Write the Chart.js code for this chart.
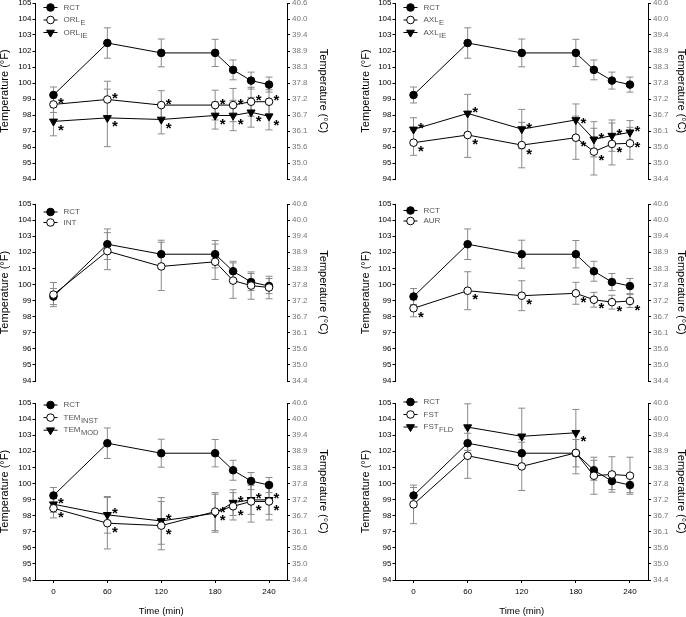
<!DOCTYPE html>
<html>
<head>
<meta charset="utf-8">
<script src="https://cdn.jsdelivr.net/npm/chart.js@4.4.0/dist/chart.umd.min.js"></script>
<style>
  html, body { margin: 0; padding: 0; background: #fff; }
  #wrap { position: relative; width: 686px; height: 617px; overflow: hidden; }
  #wrap canvas { position: absolute; }
</style>
</head>
<body>
<div id="wrap"></div>
<script>
// sampling times (min) and axis ticks
const times = [0, 60, 120, 180, 200, 220, 240];
const timeTicks = [0, 60, 120, 180, 240];
const fTicks = [94, 95, 96, 97, 98, 99, 100, 101, 102, 103, 104, 105];
const cTicks = ['34.4', '35.0', '35.6', '36.1', '36.7', '37.2', '37.8', '38.3', '38.9', '39.4', '40.0', '40.6'];

// rectal (reference) temperature, °F
const rct = [99.25, 102.5, 101.88, 101.88, 100.82, 100.15, 99.9];
const rctErr = [0.5, 0.95, 0.87, 0.85, 0.62, 0.53, 0.47];

// oral
const orlE = [98.66, 98.97, 98.62, 98.62, 98.62, 98.83, 98.83];
const orlEErr = [0.5, 1.14, 0.9, 0.93, 1.04, 0.9, 0.75];
const orlEStars = ['u', 'u', 'u', 'u', 'u', 'u', 'u'];
const orlIE = [97.6, 97.82, 97.72, 97.97, 97.97, 98.17, 97.92];
const orlIEErr = [0.9, 1.8, 0.9, 0.85, 0.95, 0.93, 0.85];
const orlIEStars = ['d', 'd', 'd', 'd', 'd', 'd', 'd'];

// axillary
const axlE = [96.27, 96.75, 96.12, 96.58, 95.71, 96.19, 96.23];
const axlEErr = [0.79, 1.4, 1.42, 1.35, 1.46, 1.31, 1.0];
const axlEStars = ['d', 'd', 'd', 'd', 'd', 'd', 'r'];
const axlIE = [97.1, 98.1, 97.12, 97.69, 96.48, 96.71, 96.92];
const axlIEErr = [0.73, 1.19, 1.23, 1.0, 1.1, 0.98, 0.73];
const axlIEStars = ['u', 'u', 'u', 'r', 'u', 'u', 'u'];

// intestinal
const intT = [99.37, 102.07, 101.12, 101.41, 100.24, 99.93, 99.81];
const intErr = [0.75, 1.15, 1.5, 1.1, 1.1, 0.85, 0.7];

// aural
const aur = [98.52, 99.61, 99.3, 99.45, 99.05, 98.9, 98.97];
const aurErr = [0.53, 1.18, 0.93, 0.68, 0.46, 0.43, 0.4];
const aurStars = ['d', 'd', 'd', 'd', 'd', 'd', 'd'];

// temporal
const temInst = [98.46, 97.53, 97.38, 98.25, 98.58, 98.88, 98.88];
const temInstErr = [0.6, 1.6, 1.5, 1.18, 0.85, 1.28, 1.15];
const temInstStars = ['d', 'd', 'd', 'd', 'd', 'd', 'd'];
const temMod = [98.71, 98.05, 97.67, 98.15, 98.81, 98.98, 98.98];
const temModErr = [0.5, 1.14, 1.45, 1.18, 0.8, 0.9, 0.9];
const temModStars = ['u', 'u', 'u', 'u', 'u', 'u', 'u'];

// forehead strip
const fst = [98.7, 101.72, 101.06, 101.9, 100.48, 100.56, 100.48];
const fstErr = [1.2, 1.4, 1.5, 1.3, 1.15, 1.1, 1.15];
const fstFld = [null, 103.5, 102.93, 103.15, null, null, null];
const fstFldErr = [0, 1.45, 1.75, 1.45, 0, 0, 0];
const fstFldStars = [null, null, null, 'd', null, null, null];

const rctSeries = { name: 'RCT', sub: '', style: 'filled', values: rct, errors: rctErr };

const panels = [
  { col: 0, row: 0, legendTop: 4.5, legendGap: 12.5, series: [rctSeries,
    { name: 'ORL', sub: 'E', style: 'open', values: orlE, errors: orlEErr, stars: orlEStars },
    { name: 'ORL', sub: 'IE', style: 'triangle', values: orlIE, errors: orlIEErr, stars: orlIEStars }] },
  { col: 1, row: 0, legendTop: 4.5, legendGap: 12.5, series: [rctSeries,
    { name: 'AXL', sub: 'E', style: 'open', values: axlE, errors: axlEErr, stars: axlEStars },
    { name: 'AXL', sub: 'IE', style: 'triangle', values: axlIE, errors: axlIEErr, stars: axlIEStars }] },
  { col: 0, row: 1, legendTop: 8, legendGap: 10.5, series: [rctSeries,
    { name: 'INT', sub: '', style: 'open', values: intT, errors: intErr }] },
  { col: 1, row: 1, legendTop: 6.5, legendGap: 10.5, series: [rctSeries,
    { name: 'AUR', sub: '', style: 'open', values: aur, errors: aurErr, stars: aurStars }] },
  { col: 0, row: 2, legendTop: 2, legendGap: 12.6, series: [rctSeries,
    { name: 'TEM', sub: 'INST', style: 'open', values: temInst, errors: temInstErr, stars: temInstStars },
    { name: 'TEM', sub: 'MOD', style: 'triangle', values: temMod, errors: temModErr, stars: temModStars }] },
  { col: 1, row: 2, legendTop: -1, legendGap: 12.5, series: [rctSeries,
    { name: 'FST', sub: '', style: 'open', values: fst, errors: fstErr },
    { name: 'FST', sub: 'FLD', style: 'triangle', values: fstFld, errors: fstFldErr, stars: fstFldStars }] }
];

// page geometry
const cols = [
  { left: 0, plotLeft: 35.5, plotRight: 287, leftTitlePad: -1.5, rightTitlePad: 13.5 },
  { left: 343, plotLeft: 395.5, plotRight: 648, leftTitlePad: 16.5, rightTitlePad: -1.5 }
];
const rows = [{ top: 3, bottom: 179 }, { top: 204, bottom: 381 }, { top: 403, bottom: 580 }];
const FONT = '"Liberation Sans", Arial, sans-serif';
Chart.defaults.font.family = FONT;

const errorBars = {
  id: 'errorBars',
  beforeDatasetsDraw(chart) {
    const ctx = chart.ctx, ys = chart.scales.y;
    ctx.save();
    ctx.strokeStyle = '#8a8a8a';
    ctx.lineWidth = 1;
    chart.data.datasets.forEach((ds, i) => {
      const meta = chart.getDatasetMeta(i);
      ds.data.forEach((d, j) => {
        if (d.y == null || !ds.errors[j]) return;
        const x = meta.data[j].x;
        const t = ys.getPixelForValue(d.y + ds.errors[j]);
        const b = ys.getPixelForValue(d.y - ds.errors[j]);
        ctx.beginPath();
        ctx.moveTo(x, t); ctx.lineTo(x, b);
        ctx.moveTo(x - 3.5, t); ctx.lineTo(x + 3.5, t);
        ctx.moveTo(x - 3.5, b); ctx.lineTo(x + 3.5, b);
        ctx.stroke();
      });
    });
    ctx.restore();
  }
};

const starMarks = {
  id: 'starMarks',
  afterDatasetsDraw(chart) {
    const ctx = chart.ctx;
    const dy = { u: -5, d: 5, r: 0 };
    ctx.save();
    ctx.fillStyle = '#000';
    ctx.font = 'bold 15px ' + FONT;
    ctx.textAlign = 'center';
    ctx.textBaseline = 'alphabetic';
    chart.data.datasets.forEach((ds, i) => {
      if (!ds.stars) return;
      const meta = chart.getDatasetMeta(i);
      ds.stars.forEach((s, j) => {
        if (!s) return;
        const p = meta.data[j];
        ctx.fillText('*', p.x + 7.5, p.y + dy[s] + 8.5);
      });
    });
    ctx.restore();
  }
};

const panelLegend = {
  id: 'panelLegend',
  afterDraw(chart, args, opts) {
    const ctx = chart.ctx, area = chart.chartArea;
    ctx.save();
    chart.data.datasets.forEach((ds, k) => {
      const y = area.top + opts.top + k * opts.gap;
      const x0 = area.left + 8;
      ctx.strokeStyle = '#000';
      ctx.lineWidth = 1;
      ctx.beginPath();
      ctx.moveTo(x0, y); ctx.lineTo(x0 + 14, y);
      ctx.stroke();
      ctx.fillStyle = ds.pointBackgroundColor;
      ctx.strokeStyle = '#000';
      Chart.helpers.drawPoint(ctx, {
        pointStyle: ds.pointStyle, rotation: ds.pointRotation,
        radius: ds.pointRadius, borderWidth: 1
      }, x0 + 7, y);
      ctx.fillStyle = '#555';
      ctx.textAlign = 'left';
      ctx.textBaseline = 'middle';
      ctx.font = '8px ' + FONT;
      const tx = x0 + 20;
      ctx.fillText(ds.label, tx, y);
      if (ds.sub) {
        const w = ctx.measureText(ds.label).width;
        ctx.font = '7.5px ' + FONT;
        ctx.fillText(ds.sub, tx + w + 0.5, y + 3);
      }
    });
    ctx.restore();
  }
};

function makeDataset(s) {
  const tri = s.style === 'triangle';
  return {
    label: s.name,
    sub: s.sub,
    errors: s.errors,
    stars: s.stars || null,
    data: times.map((t, i) => ({ x: t, y: s.values[i] })),
    borderColor: '#000',
    borderWidth: 1,
    pointStyle: tri ? 'triangle' : 'circle',
    pointRotation: tri ? 180 : 0,
    pointRadius: tri ? 4.6 : 3.8,
    pointBackgroundColor: s.style === 'open' ? '#fff' : '#000',
    pointBorderColor: '#000',
    pointBorderWidth: 1,
    fill: false,
    tension: 0,
    spanGaps: false,
    order: s.name === 'RCT' && !s.sub ? 5 : 1
  };
}

const wrap = document.getElementById('wrap');

panels.forEach(p => {
  const c = cols[p.col], r = rows[p.row];
  const isBottom = p.row === 2;
  const top = r.top - 10;
  const height = isBottom ? 617 - top : (r.bottom - r.top) + 20;
  const canvas = document.createElement('canvas');
  canvas.width = 343;
  canvas.height = height;
  canvas.style.left = c.left + 'px';
  canvas.style.top = top + 'px';
  canvas.style.width = '343px';
  canvas.style.height = height + 'px';
  wrap.appendChild(canvas);

  const yCommon = {
    min: 94, max: 105,
    afterBuildTicks: s => { s.ticks = fTicks.map(v => ({ value: v })); },
    grid: { drawOnChartArea: false, drawTicks: true, tickLength: 3, color: '#000' },
    border: { display: true, color: '#000', width: 1 }
  };

  new Chart(canvas.getContext('2d'), {
    type: 'line',
    data: { datasets: p.series.map(makeDataset) },
    options: {
      responsive: false,
      maintainAspectRatio: false,
      animation: false,
      devicePixelRatio: 1,
      events: [],
      layout: { padding: { top: 10, bottom: isBottom ? 0 : 10, left: 0, right: 0 } },
      plugins: {
        legend: { display: false },
        tooltip: { enabled: false },
        panelLegend: { top: p.legendTop, gap: p.legendGap }
      },
      scales: {
        x: {
          type: 'linear', min: -20, max: 260,
          display: isBottom,
          afterBuildTicks: s => { s.ticks = timeTicks.map(v => ({ value: v })); },
          afterFit: s => { s.height = isBottom ? 37 : 0; },
          grid: { drawOnChartArea: false, drawTicks: true, tickLength: 3, color: '#000' },
          border: { display: true, color: '#000', width: 1 },
          ticks: { color: '#000', font: { size: 8 }, padding: 4, maxRotation: 0, autoSkip: false },
          title: { display: true, text: 'Time (min)', color: '#000', font: { size: 9.5 }, padding: 0 }
        },
        y: Object.assign({}, yCommon, {
          position: 'left',
          afterFit: s => { s.width = c.plotLeft - c.left; },
          ticks: { color: '#000', font: { size: 8 }, padding: 1, autoSkip: false },
          title: { display: true, text: 'Temperature (°F)', color: '#000', font: { size: 11 }, padding: { top: c.leftTitlePad, bottom: 0 } }
        }),
        y2: Object.assign({}, yCommon, {
          position: 'right',
          afterFit: s => { s.width = c.left + 343 - c.plotRight; },
          ticks: { color: '#777', font: { size: 8 }, padding: 2, autoSkip: false,
                   callback: (v, i) => cTicks[i] },
          title: { display: true, text: 'Temperature (°C)', color: '#000', font: { size: 11 }, padding: { top: c.rightTitlePad, bottom: 0 } }
        })
      }
    },
    plugins: [errorBars, starMarks, panelLegend]
  });
});
</script>
</body>
</html>
